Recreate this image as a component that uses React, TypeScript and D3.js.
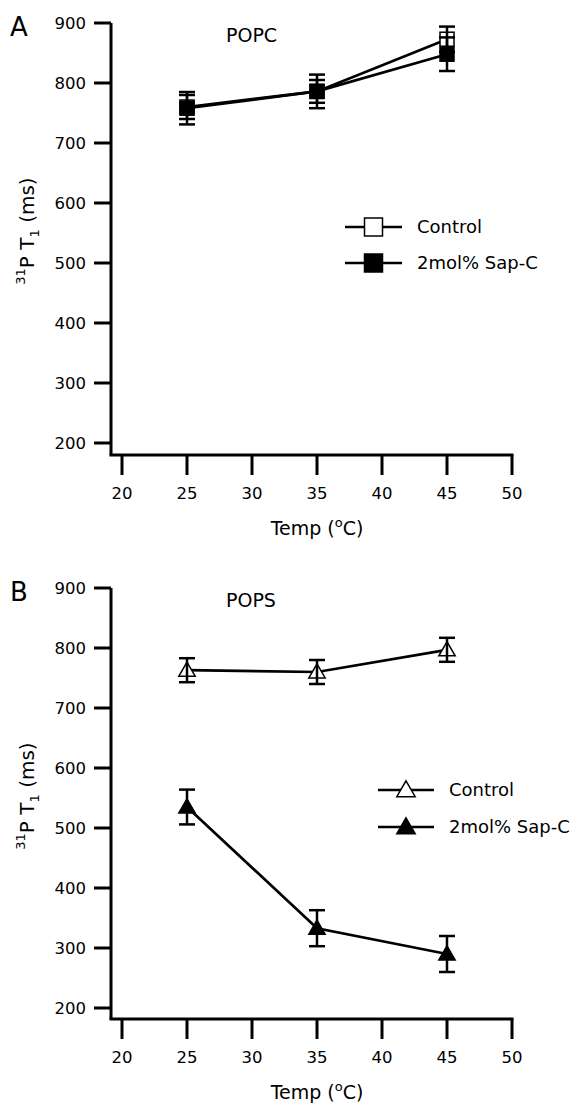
import { useEffect, useRef } from 'react';
import * as d3 from 'd3';

// x values (temperature, C)
const temps = [25, 35, 45];
const xTicks = [20, 25, 30, 35, 40, 45, 50];
const yTicks = [200, 300, 400, 500, 600, 700, 800, 900];

// Panel A - POPC
const popcControl = [760, 786, 873];
const popcControlErr = [20, 19, 21];
const popcSapC = [758, 786, 848];
const popcSapCErr = [27, 28, 28];

// Panel B - POPS
const popsControl = [763, 760, 797];
const popsControlErr = [20, 20, 20];
const popsSapC = [535, 333, 290];
const popsSapCErr = [29, 30, 30];

const seriesNames = ['Control', '2mol% Sap-C'];

const FONT = 'DejaVu Sans, sans-serif';

const App = () => {
  const svgRef = useRef<SVGSVGElement>(null);

  useEffect(() => {
    const svg = d3.select(svgRef.current);
    svg.selectAll('*').remove();

    const x = d3.scaleLinear().domain([20, 50]).range([122, 512]);
    const axisLeftX = 111;

    const panels = [
      {
        letter: 'A', title: 'POPC', top: 23, bottom: 443, axisY: 455,
        marker: 'square',
        series: [
          { vals: popcControl, err: popcControlErr, filled: false },
          { vals: popcSapC, err: popcSapCErr, filled: true },
        ],
        legendY: [227, 263], legendX: [345, 402],
      },
      {
        letter: 'B', title: 'POPS', top: 588, bottom: 1008, axisY: 1019,
        marker: 'triangle',
        series: [
          { vals: popsControl, err: popsControlErr, filled: false },
          { vals: popsSapC, err: popsSapCErr, filled: true },
        ],
        legendY: [790, 827], legendX: [378, 434],
      },
    ];

    const drawMarker = (g, type, cx, cy, size, filled) => {
      if (type === 'square') {
        g.append('rect')
          .attr('x', cx - size / 2).attr('y', cy - size / 2)
          .attr('width', size).attr('height', size)
          .attr('fill', filled ? '#000' : '#fff')
          .attr('stroke', '#000').attr('stroke-width', 1.5);
      } else {
        const sym = d3.symbol().type(d3.symbolTriangle).size(size * size * 0.45);
        g.append('path')
          .attr('d', sym())
          .attr('transform', `translate(${cx},${cy + size * 0.08})`)
          .attr('fill', filled ? '#000' : '#fff')
          .attr('stroke', '#000').attr('stroke-width', 1.5);
      }
    };

    panels.forEach((p) => {
      const y = d3.scaleLinear().domain([200, 900]).range([p.bottom, p.top]);
      const g = svg.append('g');

      // Axes
      g.append('line')
        .attr('x1', axisLeftX).attr('x2', axisLeftX)
        .attr('y1', p.top).attr('y2', p.axisY)
        .attr('stroke', '#000').attr('stroke-width', 3);
      g.append('line')
        .attr('x1', axisLeftX - 1.5).attr('x2', x(50) + 1.5)
        .attr('y1', p.axisY).attr('y2', p.axisY)
        .attr('stroke', '#000').attr('stroke-width', 3);

      yTicks.forEach((t) => {
        g.append('line')
          .attr('x1', 94).attr('x2', axisLeftX)
          .attr('y1', y(t)).attr('y2', y(t))
          .attr('stroke', '#000').attr('stroke-width', 3);
        g.append('text')
          .attr('x', 86).attr('y', y(t) + 6)
          .attr('text-anchor', 'end')
          .attr('font-family', FONT).attr('font-size', 16.5)
          .text(t);
      });

      xTicks.forEach((t) => {
        g.append('line')
          .attr('x1', x(t)).attr('x2', x(t))
          .attr('y1', p.axisY).attr('y2', p.axisY + 20)
          .attr('stroke', '#000').attr('stroke-width', 3);
        g.append('text')
          .attr('x', x(t)).attr('y', p.axisY + 44)
          .attr('text-anchor', 'middle')
          .attr('font-family', FONT).attr('font-size', 16.5)
          .text(t);
      });

      // x title
      const xt = g.append('text')
        .attr('x', 317).attr('y', p.axisY + 80)
        .attr('text-anchor', 'middle')
        .attr('font-family', FONT).attr('font-size', 19);
      xt.append('tspan').text('Temp (');
      xt.append('tspan').attr('font-size', 13).attr('dy', -8).text('o');
      xt.append('tspan').attr('dy', 8).text('C)');

      // y title
      const cy = (p.top + p.bottom) / 2 - 2;
      const yt = g.append('text')
        .attr('transform', `translate(34,${cy}) rotate(-90)`)
        .attr('text-anchor', 'middle')
        .attr('font-family', FONT).attr('font-size', 20);
      yt.append('tspan').attr('font-size', 13).attr('dy', -9).text('31');
      yt.append('tspan').attr('dy', 9).text('P T');
      yt.append('tspan').attr('font-size', 13).attr('dy', 5).text('1');
      yt.append('tspan').attr('dy', -5).text(' (ms)');

      // panel letter and title
      g.append('text')
        .attr('x', 10).attr('y', p.top + 13)
        .attr('font-family', FONT).attr('font-size', 26)
        .text(p.letter);
      g.append('text')
        .attr('x', 226).attr('y', p.top + 19)
        .attr('font-family', FONT).attr('font-size', 19)
        .text(p.title);

      const line = d3.line<number>()
        .x((_, i) => x(temps[i]))
        .y((d) => y(d));

      // connecting lines
      p.series.forEach((s) => {
        g.append('path')
          .attr('d', line(s.vals))
          .attr('fill', 'none')
          .attr('stroke', '#000').attr('stroke-width', 2.7);
      });

      // markers
      p.series.forEach((s) => {
        s.vals.forEach((v, i) => {
          drawMarker(g, p.marker, x(temps[i]), y(v), p.marker === 'square' ? 14 : 16, s.filled);
        });
      });

      // error bars
      p.series.forEach((s) => {
        s.vals.forEach((v, i) => {
          const cx = x(temps[i]);
          const hi = y(v + s.err[i]);
          const lo = y(v - s.err[i]);
          g.append('line')
            .attr('x1', cx).attr('x2', cx).attr('y1', hi).attr('y2', lo)
            .attr('stroke', '#000').attr('stroke-width', 2.5);
          [hi, lo].forEach((yy) => {
            g.append('line')
              .attr('x1', cx - 8).attr('x2', cx + 8).attr('y1', yy).attr('y2', yy)
              .attr('stroke', '#000').attr('stroke-width', 2.5);
          });
        });
      });

      // legend
      p.series.forEach((s, i) => {
        const ly = p.legendY[i];
        g.append('line')
          .attr('x1', p.legendX[0]).attr('x2', p.legendX[1])
          .attr('y1', ly).attr('y2', ly)
          .attr('stroke', '#000').attr('stroke-width', 2.5);
        drawMarker(g, p.marker, (p.legendX[0] + p.legendX[1]) / 2, ly, 18, s.filled);
        g.append('text')
          .attr('x', p.legendX[1] + 15).attr('y', ly + 6)
          .attr('font-family', FONT).attr('font-size', 18)
          .text(seriesNames[i]);
      });
    });
  }, []);

  return (
    <svg
      ref={svgRef}
      width={579}
      height={1105}
      style={{ position: 'absolute', left: 0, top: 0, background: '#fff' }}
    />
  );
};

export default App;
